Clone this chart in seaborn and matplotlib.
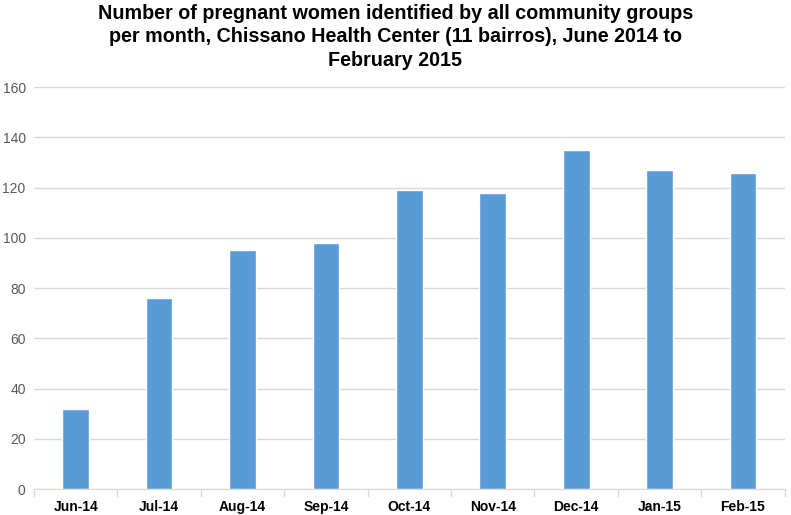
import pandas as pd
import matplotlib.pyplot as plt
import seaborn as sns

months = ['Jun-14', 'Jul-14', 'Aug-14', 'Sep-14', 'Oct-14', 'Nov-14', 'Dec-14', 'Jan-15', 'Feb-15']
women = [32, 76, 95, 98, 119, 118, 135, 127, 126]

df = pd.DataFrame({'month': months, 'women': women})

sns.set_style('white')
plt.rcParams['font.family'] = ['Liberation Sans', 'DejaVu Sans']

fig = plt.figure(figsize=(7.91, 5.15), dpi=100)
ax = fig.add_axes([0.043, 0.05, 0.949, 0.781])
sns.barplot(data=df, x='month', y='women', color='#5B9BD5', saturation=1, width=0.32, ax=ax)

ax.set_ylim(0, 160)
ax.set_yticks(range(0, 161, 20))
ax.yaxis.grid(True, color='#D9D9D9', linewidth=1)
ax.set_axisbelow(True)
ax.set_xlim(-0.5, len(months) - 0.5)
for s in ['top', 'right', 'left']:
    ax.spines[s].set_visible(False)
ax.spines['bottom'].set_color('#D9D9D9')
ax.set_xlabel('')
ax.set_ylabel('')
ax.tick_params(axis='y', length=0, labelsize=10, labelcolor='#595959', pad=6)
ax.tick_params(axis='x', length=0, labelsize=10, labelcolor='black', pad=8)
for lbl in ax.get_xticklabels():
    lbl.set_fontweight('bold')
# small category separator ticks
for i in range(len(months) + 1):
    ax.plot([i - 0.5, i - 0.5], [0, -2.5], color='#D9D9D9', lw=1, clip_on=False)

fig.suptitle('Number of pregnant women identified by all community groups\n'
             'per month, Chissano Health Center (11 bairros), June 2014 to\n'
             'February 2015', fontsize=14.2, fontweight='bold', color='black',
             y=0.993, linespacing=1.3)

fig.savefig('out.png', dpi=100)
